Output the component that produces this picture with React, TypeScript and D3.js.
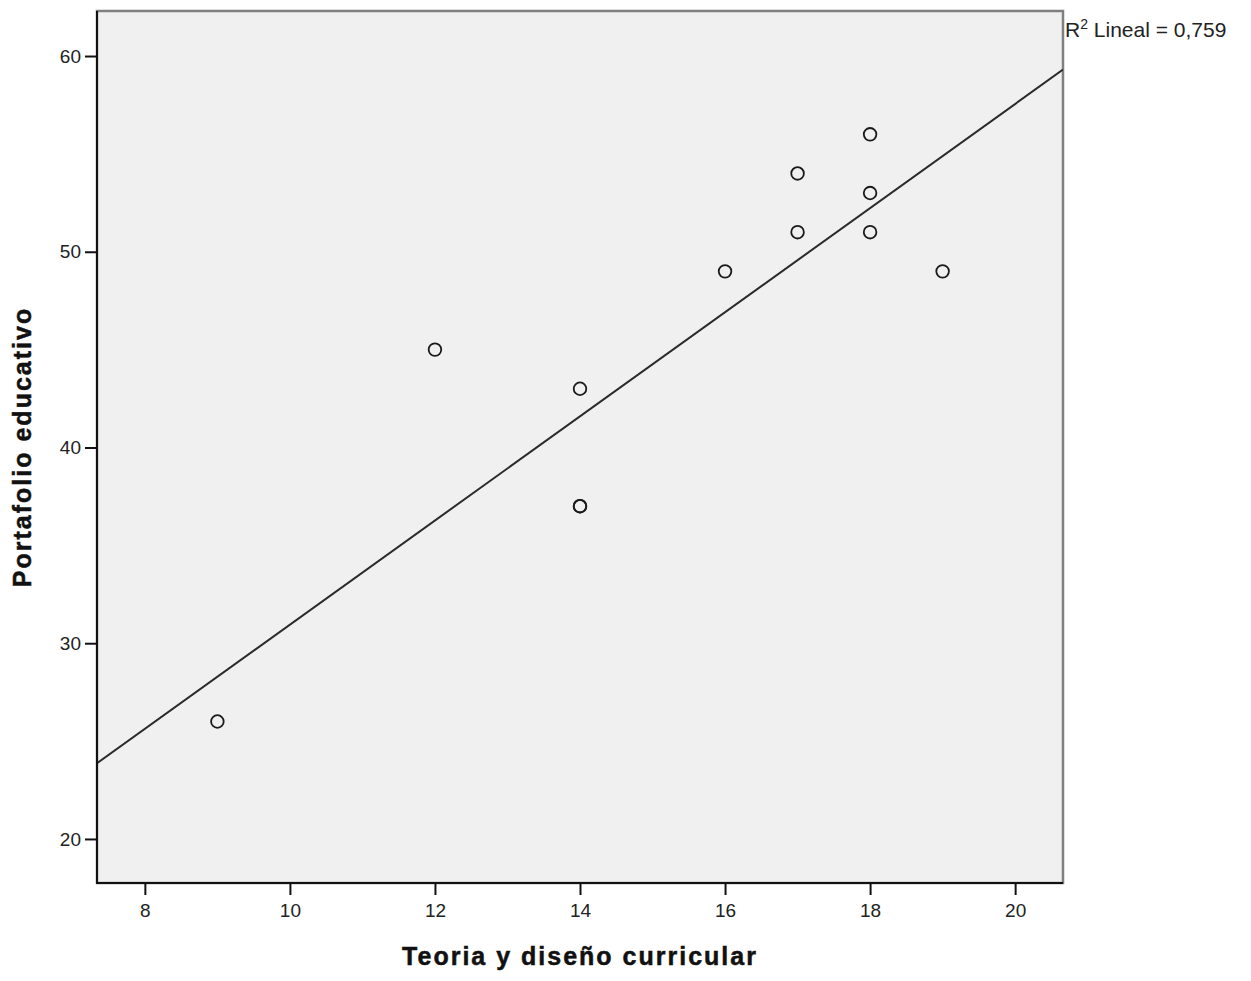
import React, { useEffect, useRef } from "react";
import * as d3 from "d3";

// scatter data: Teoria y diseño curricular vs Portafolio educativo
const teoria = [9, 12, 14, 14, 14, 16, 17, 17, 18, 18, 18, 19];
const portafolio = [26, 45, 43, 37, 37, 49, 54, 51, 56, 53, 51, 49];

// fitted line
const fitIntercept = 4.35;
const fitSlope = 2.66;
const r2Label = "0,759";

const xTicks = [8, 10, 12, 14, 16, 18, 20];
const yTicks = [20, 30, 40, 50, 60];

const App = () => {
  const ref = useRef<SVGSVGElement>(null);

  useEffect(() => {
    const width = 1251;
    const height = 981;
    const left = 97;
    const right = 1063;
    const top = 11;
    const bottom = 883;
    const font = "'Liberation Sans', Arial, sans-serif";

    const svg = d3.select(ref.current);
    svg.selectAll("*").remove();
    svg.attr("width", width).attr("height", height);

    const x = d3.scaleLinear().domain([7.34, 20.66]).range([left, right]);
    const y = d3.scaleLinear().domain([17.75, 62.3]).range([bottom, top]);

    /* plot background */
    svg
      .append("rect")
      .attr("x", left)
      .attr("y", top)
      .attr("width", right - left)
      .attr("height", bottom - top)
      .attr("fill", "#f0f0f0")
      .attr("stroke", "#808080")
      .attr("stroke-width", 2.5);

    /* fit line, clipped to the plot */
    svg
      .append("clipPath")
      .attr("id", "plot-clip")
      .append("rect")
      .attr("x", left)
      .attr("y", top)
      .attr("width", right - left)
      .attr("height", bottom - top);

    const [x0, x1] = x.domain();
    svg
      .append("line")
      .attr("clip-path", "url(#plot-clip)")
      .attr("x1", x(x0))
      .attr("y1", y(fitIntercept + fitSlope * x0))
      .attr("x2", x(x1))
      .attr("y2", y(fitIntercept + fitSlope * x1))
      .attr("stroke", "#2a2a2a")
      .attr("stroke-width", 2);

    /* points */
    svg
      .append("g")
      .selectAll("circle")
      .data(teoria.map((t, i) => [t, portafolio[i]]))
      .join("circle")
      .attr("cx", (d) => x(d[0]))
      .attr("cy", (d) => y(d[1]))
      .attr("r", 6.3)
      .attr("fill", "none")
      .attr("stroke", "#1a1a1a")
      .attr("stroke-width", 1.8);

    /* axes: left and bottom in black */
    svg
      .append("line")
      .attr("x1", left)
      .attr("x2", left)
      .attr("y1", top)
      .attr("y2", bottom + 1)
      .attr("stroke", "#111")
      .attr("stroke-width", 2);
    svg
      .append("line")
      .attr("x1", left - 1)
      .attr("x2", right)
      .attr("y1", bottom)
      .attr("y2", bottom)
      .attr("stroke", "#111")
      .attr("stroke-width", 2);

    const xAxis = d3.axisBottom(x).tickValues(xTicks).tickSize(12).tickPadding(9);
    const gx = svg.append("g").attr("transform", `translate(0,${bottom})`).call(xAxis);
    gx.select(".domain").remove();
    gx.attr("font-family", font).attr("font-size", 19);
    gx.selectAll("line").attr("stroke", "#111").attr("stroke-width", 2);
    gx.selectAll("text").attr("fill", "#222");

    const yAxis = d3.axisLeft(y).tickValues(yTicks).tickSize(12).tickPadding(4);
    const gy = svg.append("g").attr("transform", `translate(${left},0)`).call(yAxis);
    gy.select(".domain").remove();
    gy.attr("font-family", font).attr("font-size", 19);
    gy.selectAll("line").attr("stroke", "#111").attr("stroke-width", 2);
    gy.selectAll("text").attr("fill", "#222");

    /* axis titles */
    svg
      .append("text")
      .attr("x", (left + right) / 2)
      .attr("y", 965)
      .attr("text-anchor", "middle")
      .attr("font-family", font)
      .attr("font-weight", "bold")
      .attr("font-size", 25)
      .attr("letter-spacing", 2)
      .attr("fill", "#111")
      .attr("stroke", "#111")
      .attr("stroke-width", 0.5)
      .text("Teoria y diseño curricular");

    svg
      .append("text")
      .attr("transform", `translate(31,${(top + bottom) / 2}) rotate(-90)`)
      .attr("text-anchor", "middle")
      .attr("font-family", font)
      .attr("font-weight", "bold")
      .attr("font-size", 25)
      .attr("letter-spacing", 2)
      .attr("fill", "#111")
      .attr("stroke", "#111")
      .attr("stroke-width", 0.5)
      .text("Portafolio educativo");

    /* R² label */
    const r2 = svg
      .append("text")
      .attr("x", right + 2)
      .attr("y", 37)
      .attr("font-family", font)
      .attr("font-size", 21)
      .attr("fill", "#222");
    r2.append("tspan").text("R");
    r2.append("tspan").attr("dy", -8).attr("font-size", 14).text("2");
    r2.append("tspan").attr("dy", 8).text(` Lineal = ${r2Label}`);
  }, []);

  return <svg ref={ref} style={{ display: "block", position: "absolute", left: 0, top: 0 }} />;
};

export default App;
